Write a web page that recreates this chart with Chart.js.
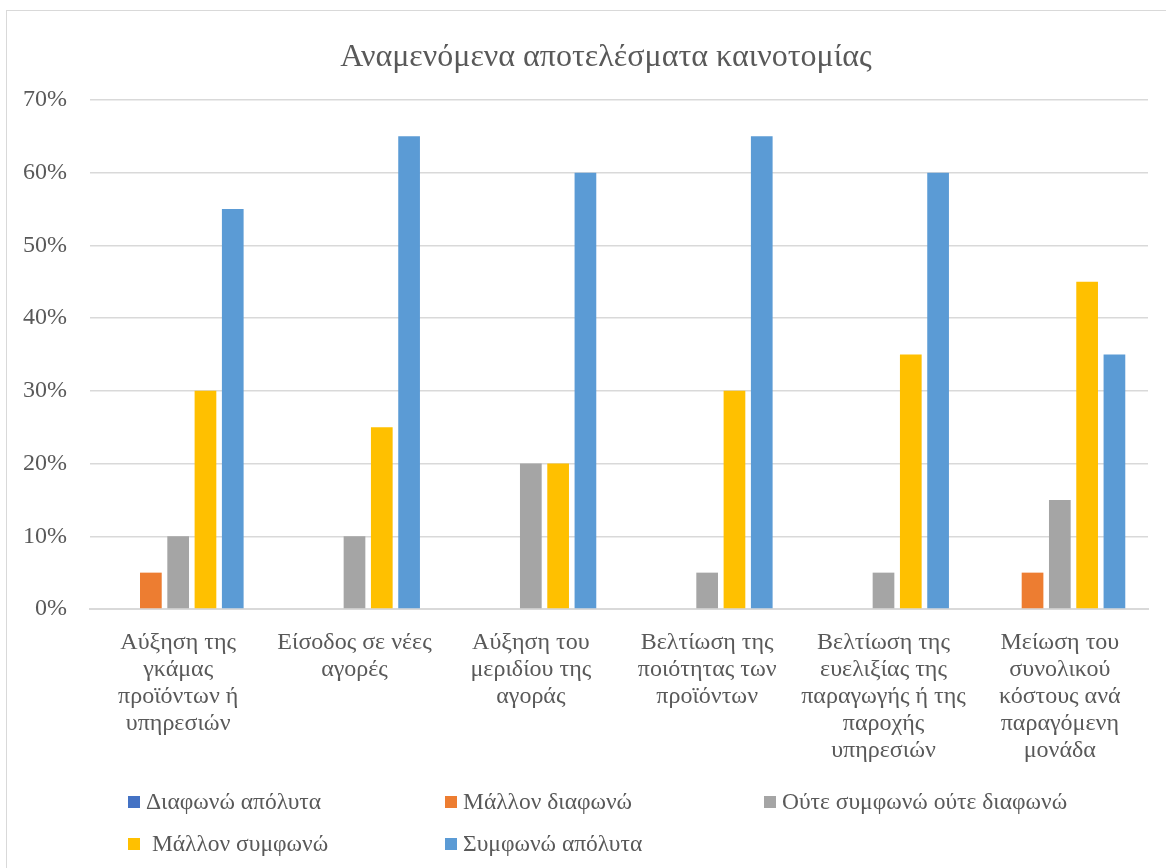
<!DOCTYPE html>
<html>
<head>
<meta charset="utf-8">
<script src="https://cdn.jsdelivr.net/npm/chart.js@4/dist/chart.umd.min.js"></script>
<style>
    body { margin: 0; background: #fff; }
    #wrap { position: relative; width: 1166px; height: 868px; overflow: hidden; }
    #frame { position: absolute; left: 6px; top: 10px; width: 1170px; height: 870px; border: 1px solid #d9d9d9; box-sizing: border-box; }
    #chart { position: absolute; left: 0; top: 0; }
    .leg { position: absolute; display: flex; align-items: center; height: 28px; font-family: "Liberation Serif", serif; font-size: 23.5px; color: #595959; white-space: pre; }
    .leg i { display: inline-block; width: 12px; height: 12px; margin-right: 6px; margin-top: 1px; }
</style>
</head>
<body>
<div id="wrap">
    <div id="frame"></div>
    <canvas id="chart" width="1166" height="868"></canvas>
</div>
<script>
    var categories = [
        ["Αύξηση της", "γκάμας", "προϊόντων ή", "υπηρεσιών"],
        ["Είσοδος σε νέες", "αγορές"],
        ["Αύξηση του", "μεριδίου της", "αγοράς"],
        ["Βελτίωση της", "ποιότητας των", "προϊόντων"],
        ["Βελτίωση της", "ευελιξίας της", "παραγωγής ή της", "παροχής", "υπηρεσιών"],
        ["Μείωση του", "συνολικού", "κόστους ανά", "παραγόμενη", "μονάδα"]
    ];

    var seriesNames = ["Διαφωνώ απόλυτα", "Μάλλον διαφωνώ", "Ούτε συμφωνώ ούτε διαφωνώ", " Μάλλον συμφωνώ", "Συμφωνώ απόλυτα"];
    var seriesColors = ["#4472C4", "#ED7D31", "#A5A5A5", "#FFC000", "#5B9BD5"];

    var disagreeFully = [0, 0, 0, 0, 0, 0];
    var ratherDisagree = [5, 0, 0, 0, 0, 5];
    var neutral = [10, 10, 20, 5, 5, 15];
    var ratherAgree = [30, 25, 20, 30, 35, 45];
    var agreeFully = [55, 65, 60, 65, 60, 35];

    var yTicks = [0, 10, 20, 30, 40, 50, 60, 70];

    var seriesValues = [disagreeFully, ratherDisagree, neutral, ratherAgree, agreeFully];

    var font = '"Liberation Serif", serif';
    var textColor = "#595959";
    var tickFontSize = 24;

    // y labels are mirrored (so they are not clipped to the narrow axis box),
    // then pulled back left of the plot with a negative padding
    var mctx = document.createElement("canvas").getContext("2d");
    mctx.font = tickFontSize + "px " + font;
    var widestY = Math.max.apply(null, yTicks.map(function (v) { return mctx.measureText(v + "%").width; }));
    var yLabelRight = 67;
    var plotLeft = 90;
    var padLeft = 64;

    var datasets = seriesValues.map(function (vals, i) {
        return {
            label: seriesNames[i],
            data: vals,
            backgroundColor: seriesColors[i],
            borderWidth: 0,
            categoryPercentage: 0.774,
            barPercentage: 0.795
        };
    });

    new Chart(document.getElementById("chart"), {
        type: 'bar',
        data: {
            labels: categories,
            datasets: datasets
        },
        options: {
            responsive: false,
            animation: false,
            layout: {
                padding: {left: padLeft, right: 18, top: 0, bottom: 0}
            },
            plugins: {
                legend: {display: false},
                tooltip: {enabled: false},
                title: {
                    display: true,
                    text: "Αναμενόμενα αποτελέσματα καινοτομίας",
                    color: textColor,
                    font: {family: font, size: 32, weight: 'normal'},
                    padding: {top: 38, bottom: 23.6}
                }
            },
            scales: {
                x: {
                    grid: {display: false},
                    border: {color: '#d9d9d9', width: 2},
                    ticks: {
                        color: textColor,
                        font: {family: font, size: tickFontSize, lineHeight: 1.13},
                        padding: 12,
                        maxRotation: 0,
                        autoSkip: false
                    },
                    afterFit: function (scale) {
                        scale.height = 259;
                    }
                },
                y: {
                    min: 0,
                    max: 70,
                    afterBuildTicks: function (scale) {
                        scale.ticks = yTicks.map(function (v) { return {value: v}; });
                    },
                    grid: {color: '#d9d9d9', lineWidth: 1.5, drawTicks: false},
                    border: {display: false},
                    ticks: {
                        color: textColor,
                        font: {family: font, size: tickFontSize},
                        mirror: true,
                        crossAlign: 'far',
                        padding: yLabelRight - plotLeft - widestY,
                        callback: function (v) { return v + "%"; }
                    },
                    afterFit: function (scale) {
                        scale.width = plotLeft - padLeft;
                    }
                }
            }
        }
    });

    // legend laid out like the original: three columns, two rows
    var legendPos = [[128, 787], [445, 787], [764, 787], [128, 829], [445, 829]];
    var wrap = document.getElementById("wrap");
    seriesNames.forEach(function (name, i) {
        var el = document.createElement("div");
        el.className = "leg";
        el.style.left = legendPos[i][0] + "px";
        el.style.top = legendPos[i][1] + "px";
        el.innerHTML = '<i style="background:' + seriesColors[i] + '"></i>' + name;
        wrap.appendChild(el);
    });
</script>
</body>
</html>
